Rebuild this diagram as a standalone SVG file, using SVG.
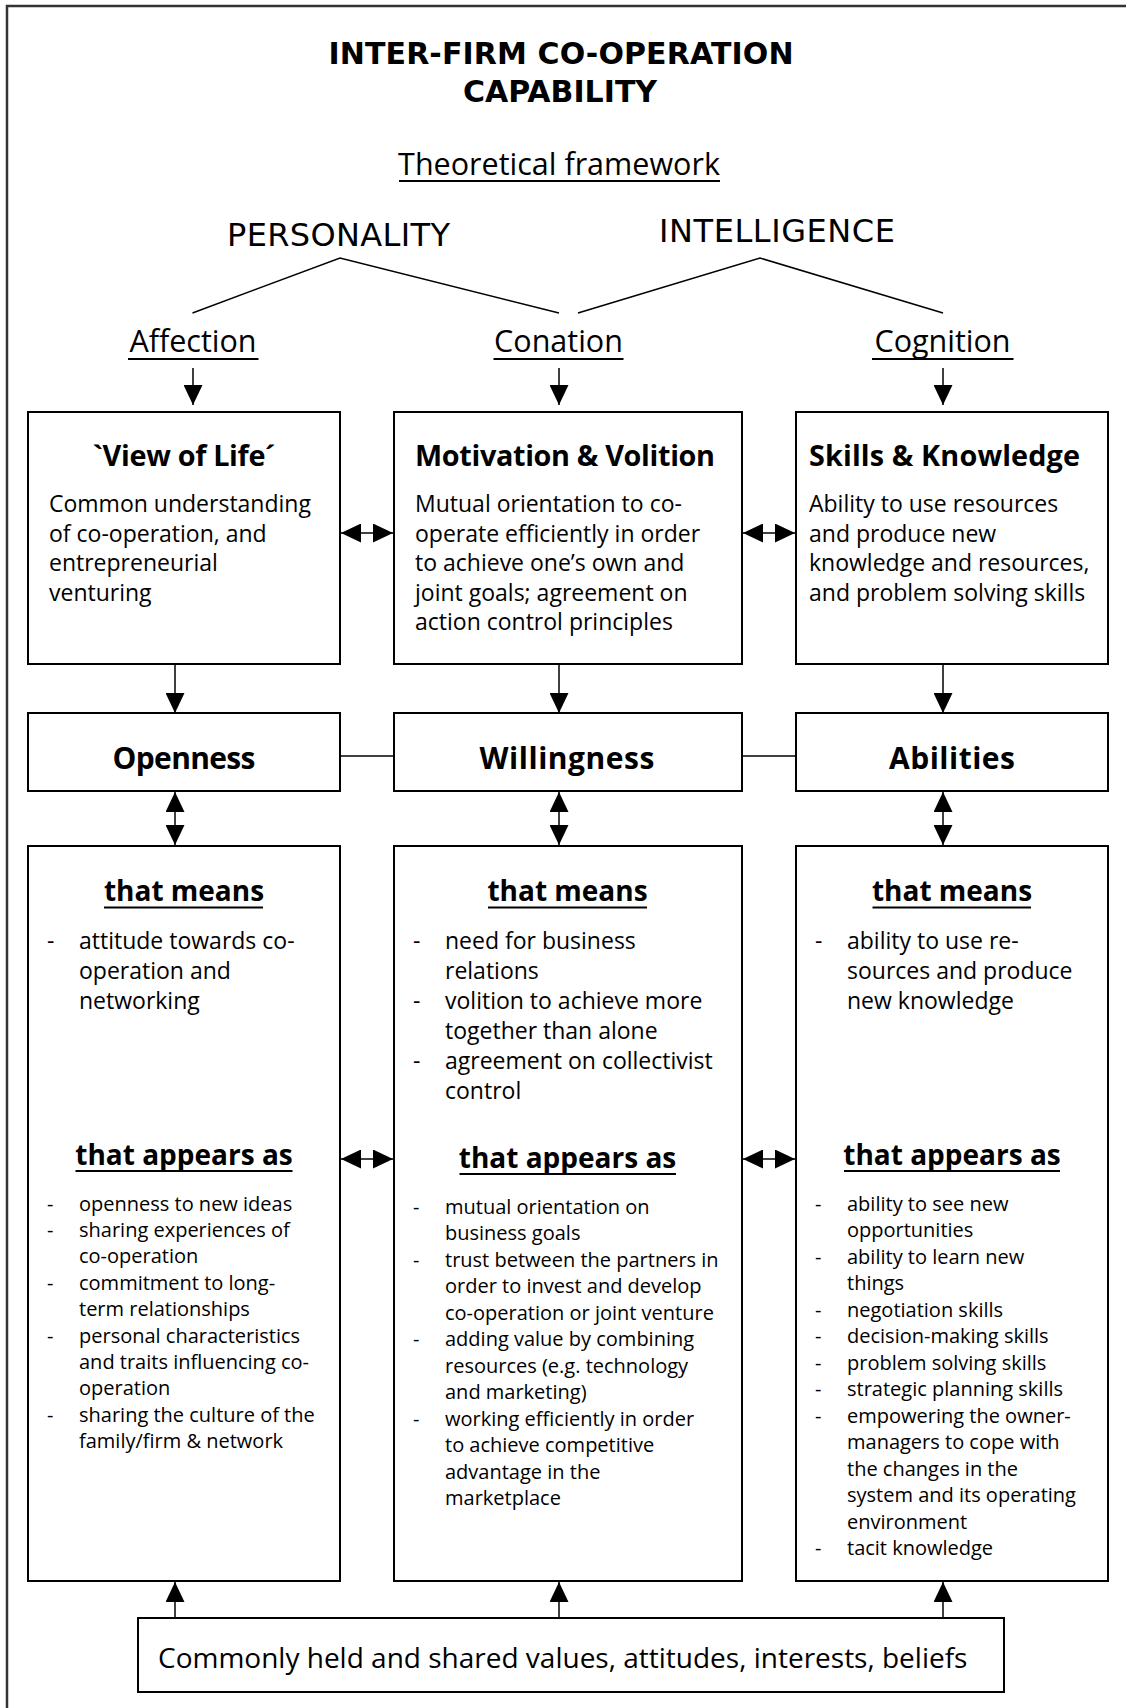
<svg xmlns="http://www.w3.org/2000/svg" width="1126" height="1708" viewBox="0 0 1126 1708">
  <style>
    text { font-family: "Open Sans", "Liberation Sans", sans-serif; fill: #000; }
    .title { font-family: "DejaVu Sans", "Open Sans", sans-serif; font-size: 30px; font-weight: bold; text-anchor: middle; }
    .sub { font-size: 30.5px; text-anchor: middle; }
    .caps { font-family: "DejaVu Sans", "Open Sans", sans-serif; font-size: 32px; text-anchor: middle; }
    .head { font-size: 28.8px; font-weight: bold; }
    .body { font-size: 23px; }
    .lab { font-size: 30px; font-weight: bold; text-anchor: middle; }
    .sec { font-size: 28px; font-weight: bold; text-anchor: middle; }
    .small { font-size: 20px; }
    .base { font-size: 28px; }
    .box { fill: #fff; stroke: #000; stroke-width: 2; }
    .ul { stroke: #000; stroke-width: 2.2; }
    .ln { stroke: #000; stroke-width: 1.5; fill: none; }
    .arr { stroke: #000; stroke-width: 1.5; fill: none; marker-end: url(#ah); }
    .dbl { stroke: #000; stroke-width: 1.5; fill: none; marker-start: url(#ah); marker-end: url(#ah); }
  </style>
  <defs>
    <marker id="ah" viewBox="0 0 20 20" refX="20" refY="10" markerWidth="20" markerHeight="19" markerUnits="userSpaceOnUse" orient="auto-start-reverse" preserveAspectRatio="none">
      <path d="M0,0 L20,10 L0,20 Z" fill="#000"/>
    </marker>
  </defs>

  <rect width="1126" height="1708" fill="#fff"/>
  <!-- page frame -->
  <rect x="7" y="6" width="1200" height="1800" fill="none" stroke="#333" stroke-width="2.5"/>

  <!-- heading and theoretical layer -->
  <g id="heading">
    <text class="title" x="561" y="64" textLength="465">INTER-FIRM CO-OPERATION</text>
    <text class="title" x="560" y="102">CAPABILITY</text>
    <text class="sub" x="559" y="175">Theoretical framework</text>
    <line class="ul" x1="399" y1="181" x2="720" y2="181"/>
  </g>
  <g id="personality">
    <text class="caps" x="338.5" y="246" textLength="223">PERSONALITY</text>
  </g>
  <g id="intelligence">
    <text class="caps" x="777" y="242" textLength="236">INTELLIGENCE</text>
  </g>
  <g id="affection">
    <text class="sub" x="193" y="352">Affection</text>
    <line class="ul" x1="128" y1="359" x2="258.5" y2="359"/>
  </g>
  <g id="conation">
    <text class="sub" x="558.5" y="352">Conation</text>
    <line class="ul" x1="493.5" y1="359" x2="623.5" y2="359"/>
  </g>
  <g id="cognition">
    <text class="sub" x="942.5" y="352">Cognition</text>
    <line class="ul" x1="872" y1="359" x2="1013.5" y2="359"/>
  </g>

  <!-- connectors -->
  <g id="connectors">
    <polyline class="ln" points="192.5,313 340,258 559,313"/>
    <polyline class="ln" points="578,313 760,258 943,313"/>

    <line class="arr" x1="193" y1="368" x2="193" y2="405"/>
    <line class="arr" x1="559" y1="368" x2="559" y2="405"/>
    <line class="arr" x1="943" y1="368" x2="943" y2="405"/>

    <line class="dbl" x1="341" y1="533" x2="393" y2="533"/>
    <line class="dbl" x1="743" y1="533" x2="795" y2="533"/>

    <line class="arr" x1="175" y1="664" x2="175" y2="713"/>
    <line class="arr" x1="559" y1="664" x2="559" y2="713"/>
    <line class="arr" x1="943" y1="664" x2="943" y2="713"/>

    <line class="ln" x1="340" y1="756" x2="394" y2="756"/>
    <line class="ln" x1="742" y1="756" x2="796" y2="756"/>

    <line class="dbl" x1="175" y1="792" x2="175" y2="845"/>
    <line class="dbl" x1="559" y1="792" x2="559" y2="845"/>
    <line class="dbl" x1="943" y1="792" x2="943" y2="845"/>

    <line class="dbl" x1="341" y1="1159" x2="393" y2="1159"/>
    <line class="dbl" x1="743" y1="1159" x2="795" y2="1159"/>

    <line class="arr" x1="175" y1="1618" x2="175" y2="1582"/>
    <line class="arr" x1="559" y1="1618" x2="559" y2="1582"/>
    <line class="arr" x1="943" y1="1618" x2="943" y2="1582"/>
  </g>

  <!-- first row -->
  <g id="view-of-life">
    <rect class="box" x="28" y="412" width="312" height="252"/>
    <text class="head" x="184" y="466" text-anchor="middle" textLength="183">`View of Life´</text>
    <text class="body" x="49" y="512">Common understanding</text>
    <text class="body" x="49" y="541.5">of co-operation, and</text>
    <text class="body" x="49" y="571">entrepreneurial</text>
    <text class="body" x="49" y="600.5">venturing</text>
  </g>
  <g id="motivation-volition">
    <rect class="box" x="394" y="412" width="348" height="252"/>
    <text class="head" x="415" y="466" textLength="300">Motivation &amp; Volition</text>
    <text class="body" x="415" y="512">Mutual orientation to co-</text>
    <text class="body" x="415" y="541.5">operate efficiently in order</text>
    <text class="body" x="415" y="571">to achieve one’s own and</text>
    <text class="body" x="415" y="600.5">joint goals; agreement on</text>
    <text class="body" x="415" y="630">action control principles</text>
  </g>
  <g id="skills-knowledge">
    <rect class="box" x="796" y="412" width="312" height="252"/>
    <text class="head" x="809" y="466" textLength="271">Skills &amp; Knowledge</text>
    <text class="body" x="809" y="512">Ability to use resources</text>
    <text class="body" x="809" y="541.5">and produce new</text>
    <text class="body" x="809" y="571">knowledge and resources,</text>
    <text class="body" x="809" y="600.5">and problem solving skills</text>
  </g>

  <!-- second row -->
  <g id="openness">
    <rect class="box" x="28" y="713" width="312" height="78"/>
    <text class="lab" x="184" y="769" textLength="143">Openness</text>
  </g>
  <g id="willingness">
    <rect class="box" x="394" y="713" width="348" height="78"/>
    <text class="lab" x="567" y="769" textLength="175">Willingness</text>
  </g>
  <g id="abilities">
    <rect class="box" x="796" y="713" width="312" height="78"/>
    <text class="lab" x="952" y="769" textLength="126">Abilities</text>
  </g>

  <!-- third row -->
  <g id="openness-detail">
    <rect class="box" x="28" y="846" width="312" height="735"/>
    <text class="sec" x="184" y="901">that means</text>
    <line class="ul" x1="104" y1="907.5" x2="263" y2="907.5"/>
    <text class="body" x="47" y="948.5">-</text>
    <text class="body" x="79" y="948.5">attitude towards co-</text>
    <text class="body" x="79" y="978.5">operation and</text>
    <text class="body" x="79" y="1008.5">networking</text>
    <text class="sec" x="184" y="1165">that appears as</text>
    <line class="ul" x1="75.5" y1="1171" x2="292.5" y2="1171"/>
    <g class="small">
      <text x="47" y="1210.5">-</text><text x="79" y="1210.5">openness to new ideas</text>
      <text x="47" y="1236.9">-</text><text x="79" y="1236.9">sharing experiences of</text>
      <text x="79" y="1263.3">co-operation</text>
      <text x="47" y="1289.7">-</text><text x="79" y="1289.7">commitment to long-</text>
      <text x="79" y="1316.1">term relationships</text>
      <text x="47" y="1342.5">-</text><text x="79" y="1342.5">personal characteristics</text>
      <text x="79" y="1368.9">and traits influencing co-</text>
      <text x="79" y="1395.3">operation</text>
      <text x="47" y="1421.7">-</text><text x="79" y="1421.7">sharing the culture of the</text>
      <text x="79" y="1448.1">family/firm &amp; network</text>
    </g>
  </g>
  <g id="willingness-detail">
    <rect class="box" x="394" y="846" width="348" height="735"/>
    <text class="sec" x="567.5" y="901">that means</text>
    <line class="ul" x1="488" y1="907.5" x2="647" y2="907.5"/>
    <text class="body" x="413" y="948.5">-</text>
    <text class="body" x="445" y="948.5">need for business</text>
    <text class="body" x="445" y="978.5">relations</text>
    <text class="body" x="413" y="1008.5">-</text>
    <text class="body" x="445" y="1008.5">volition to achieve more</text>
    <text class="body" x="445" y="1038.5">together than alone</text>
    <text class="body" x="413" y="1068.5">-</text>
    <text class="body" x="445" y="1068.5">agreement on collectivist</text>
    <text class="body" x="445" y="1098.5">control</text>
    <text class="sec" x="567.5" y="1168">that appears as</text>
    <line class="ul" x1="459.5" y1="1174" x2="676" y2="1174"/>
    <g class="small">
      <text x="413" y="1213.5">-</text><text x="445" y="1213.5">mutual orientation on</text>
      <text x="445" y="1240">business goals</text>
      <text x="413" y="1266.5">-</text><text x="445" y="1266.5">trust between the partners in</text>
      <text x="445" y="1293">order to invest and develop</text>
      <text x="445" y="1319.5">co-operation or joint venture</text>
      <text x="413" y="1346">-</text><text x="445" y="1346">adding value by combining</text>
      <text x="445" y="1372.5">resources (e.g. technology</text>
      <text x="445" y="1399">and marketing)</text>
      <text x="413" y="1425.5">-</text><text x="445" y="1425.5">working efficiently in order</text>
      <text x="445" y="1452">to achieve competitive</text>
      <text x="445" y="1478.5">advantage in the</text>
      <text x="445" y="1505">marketplace</text>
    </g>
  </g>
  <g id="abilities-detail">
    <rect class="box" x="796" y="846" width="312" height="735"/>
    <text class="sec" x="952" y="901">that means</text>
    <line class="ul" x1="872.5" y1="907.5" x2="1031" y2="907.5"/>
    <text class="body" x="815" y="948.5">-</text>
    <text class="body" x="847" y="948.5">ability to use re-</text>
    <text class="body" x="847" y="978.5">sources and produce</text>
    <text class="body" x="847" y="1008.5">new knowledge</text>
    <text class="sec" x="952" y="1165">that appears as</text>
    <line class="ul" x1="844" y1="1171" x2="1060" y2="1171"/>
    <g class="small">
      <text x="815" y="1210.5">-</text><text x="847" y="1210.5">ability to see new</text>
      <text x="847" y="1237">opportunities</text>
      <text x="815" y="1263.5">-</text><text x="847" y="1263.5">ability to learn new</text>
      <text x="847" y="1290">things</text>
      <text x="815" y="1316.5">-</text><text x="847" y="1316.5">negotiation skills</text>
      <text x="815" y="1343">-</text><text x="847" y="1343">decision-making skills</text>
      <text x="815" y="1369.5">-</text><text x="847" y="1369.5">problem solving skills</text>
      <text x="815" y="1396">-</text><text x="847" y="1396">strategic planning skills</text>
      <text x="815" y="1422.5">-</text><text x="847" y="1422.5">empowering the owner-</text>
      <text x="847" y="1449">managers to cope with</text>
      <text x="847" y="1475.5">the changes in the</text>
      <text x="847" y="1502">system and its operating</text>
      <text x="847" y="1528.5">environment</text>
      <text x="815" y="1555">-</text><text x="847" y="1555">tacit knowledge</text>
    </g>
  </g>

  <!-- shared foundation -->
  <g id="shared-values">
    <rect class="box" x="138" y="1618" width="866" height="74"/>
    <text class="base" x="158" y="1668">Commonly held and shared values, attitudes, interests, beliefs</text>
  </g>
</svg>
